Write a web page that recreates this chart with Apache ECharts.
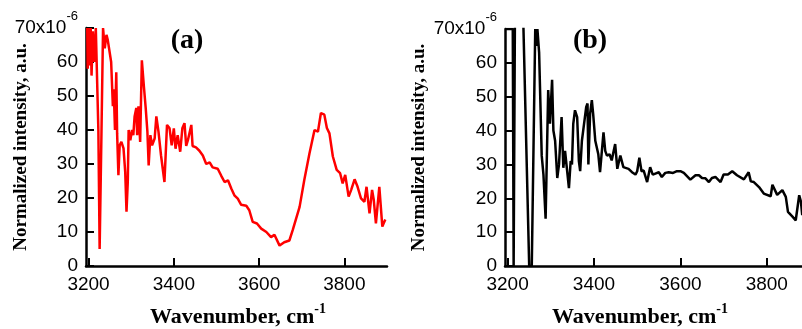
<!DOCTYPE html>
<html>
<head>
<meta charset="utf-8">
<script src="https://cdn.jsdelivr.net/npm/echarts@6/dist/echarts.min.js"></script>
<style>
  html, body { margin: 0; padding: 0; background: #fff; }
  #chart { width: 802px; height: 329px; }
</style>
</head>
<body>
<div id="chart"></div>
<script>
// panel (a): red spectrum
const waveA = [3197, 3198, 3201, 3203, 3205, 3207, 3210, 3213, 3217, 3220, 3223, 3226, 3230, 3234,
  3236, 3238, 3242, 3245, 3248, 3253, 3257, 3259, 3262, 3265, 3267, 3270, 3273, 3277, 3282, 3286,
  3289, 3292, 3294, 3298, 3302, 3305, 3308, 3312, 3314, 3317, 3321, 3325, 3330, 3334, 3338, 3341,
  3345, 3349, 3355, 3359, 3364, 3370, 3378, 3384, 3390, 3395, 3400, 3404, 3409, 3415, 3420, 3425,
  3429, 3433, 3441, 3444, 3452, 3460, 3468, 3476, 3484, 3491, 3503, 3511, 3519, 3527, 3535, 3542,
  3550, 3558, 3570, 3577, 3585, 3595, 3605, 3617, 3628, 3636, 3648, 3659, 3671, 3679, 3695, 3706,
  3718, 3730, 3738, 3745, 3753, 3759, 3765, 3773, 3782, 3790, 3796, 3802, 3810, 3816, 3824, 3831,
  3839, 3847, 3852, 3859, 3865, 3869, 3874, 3882, 3889, 3896];
const intensityA = [70, 58, 70, 59, 70, 56, 69, 60, 70, 70, 40, 5, 37, 70,
  70, 64, 68, 66.5, 67, 60, 47, 52, 40, 57, 39, 26.7, 35.5, 36.5, 34.6, 27.6,
  16, 24.7, 40, 37, 40, 38.5, 44, 46.5, 38.5, 47, 36.5, 60.5, 52.5, 46.5, 39.5, 29.6,
  38.5, 35.5, 37.5, 44, 39.5, 32.5, 24.7, 41.5, 40.5, 35.5, 40.5, 34.5, 38.5, 33.6, 40.5, 42,
  35.3, 37, 41.5, 35.3, 34.9, 33.9, 32.5, 30, 30.5, 29, 28.6, 26.6, 24.7, 25.2, 22.7, 20.8,
  19.8, 18, 17.7, 16.4, 13, 12.5, 11, 10, 8.5, 9.2, 6, 7, 7.5, 10.6, 17.4, 25.3,
  33, 40, 39.5, 45, 44.5, 40.6, 39, 32.2, 28.3, 27.3, 24.3, 26.8, 20.4, 22.4, 25.5, 23.3,
  19.9, 18.9, 23.3, 15.5, 22.4, 19.4, 12.5, 23.3, 11.6, 13.7];

// panel (b): black spectrum
const waveB = [3195, 3212, 3214, 3217, 3236, 3250, 3256, 3264, 3266, 3269, 3273, 3279, 3283, 3288,
  3294, 3298, 3303, 3306, 3310, 3315, 3319, 3325, 3329, 3333, 3337, 3342, 3346, 3349, 3352, 3356,
  3361, 3365, 3368, 3372, 3375, 3382, 3385, 3387, 3391, 3395, 3398, 3403, 3410, 3414, 3422, 3426,
  3430, 3436, 3441, 3449, 3454, 3458, 3461, 3468, 3480, 3488, 3496, 3500, 3505, 3510, 3515, 3523,
  3530, 3536, 3542, 3550, 3557, 3565, 3573, 3583, 3592, 3600, 3608, 3623, 3635, 3643, 3650, 3658,
  3666, 3673, 3681, 3693, 3700, 3710, 3720, 3731, 3747, 3758, 3763, 3770, 3782, 3793, 3809, 3813,
  3817, 3824, 3836, 3844, 3849, 3860, 3867, 3875, 3879, 3882];
const intensityB = [70, 70, 0, 74, 74, 0, 0, 70, 65, 70, 63, 32.6, 27, 14,
  52, 42, 55, 40, 37, 26, 30, 44, 29, 34, 33.8, 23, 31, 30, 42, 46,
  44, 31, 28, 37, 40, 47, 48, 30, 45, 49, 45, 37, 33, 27.7, 39.5, 34,
  32.6, 33, 31.2, 36, 28.7, 31, 32.6, 29.2, 28.7, 27.7, 27, 28, 32, 28, 28.2, 24.8,
  29.2, 27, 27.3, 27.7, 26.3, 27.5, 27.7, 27.5, 28, 28, 27.5, 25.5, 26.8, 26.8, 26, 25.9,
  24.8, 26, 26.3, 24.8, 27, 27, 28, 26.8, 25.6, 27.7, 25, 24.8, 23.3, 21.4, 20.6, 24,
  23.5, 21, 22.4, 20.4, 16, 14.5, 13.5, 20.9, 19, 15];

const xTicks = [3200, 3400, 3600, 3800];
const yMax = 70;

const chart = echarts.init(document.getElementById("chart"), null, { renderer: "canvas" });

const sans = "'Liberation Sans', Arial, sans-serif";
const serif = "'Liberation Serif', 'Times New Roman', serif";

function xAxisFor(gridIndex) {
  return {
    type: "value",
    gridIndex,
    min: 3194,
    max: 3900,
    axisLine: { lineStyle: { color: "#000", width: 2.5 } },
    axisTick: { inside: true, length: 8, customValues: xTicks, lineStyle: { color: "#000", width: 2 } },
    axisLabel: {
      customValues: xTicks,
      margin: 9,
      color: "#000",
      fontSize: 19,
      fontFamily: sans,
      formatter: (v) => String(v),
    },
    splitLine: { show: false },
  };
}

function yAxisFor(gridIndex, gap) {
  return {
    type: "value",
    gridIndex,
    min: 0,
    max: yMax,
    interval: 10,
    name: "Normalized intensity, a.u.",
    nameLocation: "middle",
    nameGap: gap,
    nameMoveOverlap: false,
    nameTextStyle: { color: "#000", fontSize: 19, fontWeight: "bold", fontFamily: serif },
    axisLine: { show: true, lineStyle: { color: "#000", width: 2.5 } },
    axisTick: { show: true, inside: true, length: 8, lineStyle: { color: "#000", width: 2 } },
    axisLabel: {
      margin: 8,
      color: "#000",
      fontSize: 19,
      fontFamily: sans,
      formatter: (v) => (v === yMax ? "{m|70x10}{s|-6}" : String(v)),
      rich: {
        m: { fontSize: 19, fontFamily: sans, color: "#000" },
        s: { fontSize: 13, fontFamily: sans, color: "#000", lineHeight: 13, verticalAlign: "bottom", padding: [0, 0, 15, 0] },
      },
    },
    splitLine: { show: false },
  };
}

function xTitle(x) {
  return {
    type: "text",
    x,
    y: 317,
    style: {
      text: "{t|Wavenumber, cm}{s|-1}",
      align: "center",
      verticalAlign: "middle",
      rich: {
        t: { fontSize: 22, fontWeight: "bold", fontFamily: serif, fill: "#000", color: "#000" },
        s: { fontSize: 14, fontWeight: "bold", fontFamily: serif, fill: "#000", color: "#000", lineHeight: 14, verticalAlign: "bottom", padding: [0, 0, 12, 0] },
      },
    },
  };
}

chart.setOption({
  animation: false,
  grid: [
    { left: 86, top: 28, width: 301, height: 238, outerBoundsMode: "none" },
    { left: 505, top: 29, width: 305, height: 237, outerBoundsMode: "none" },
  ],
  xAxis: [xAxisFor(0), xAxisFor(1)],
  yAxis: [yAxisFor(0, 55), yAxisFor(1, 76)],
  series: [
    {
      type: "line",
      xAxisIndex: 0,
      yAxisIndex: 0,
      data: waveA.map((w, i) => [w, intensityA[i]]),
      showSymbol: false,
      clip: true,
      lineStyle: { color: "#ff0000", width: 2.5 },
    },
    {
      type: "line",
      xAxisIndex: 1,
      yAxisIndex: 1,
      data: waveB.map((w, i) => [w, intensityB[i]]),
      showSymbol: false,
      clip: true,
      lineStyle: { color: "#000", width: 2.5 },
    },
  ],
  graphic: [
    { type: "text", x: 187, y: 41, style: { text: "(a)", font: "bold 28px " + serif, fill: "#000", align: "center", verticalAlign: "middle" } },
    { type: "text", x: 590, y: 41, style: { text: "(b)", font: "bold 28px " + serif, fill: "#000", align: "center", verticalAlign: "middle" } },
    xTitle(238),
    xTitle(640),
  ],
});
</script>
</body>
</html>
